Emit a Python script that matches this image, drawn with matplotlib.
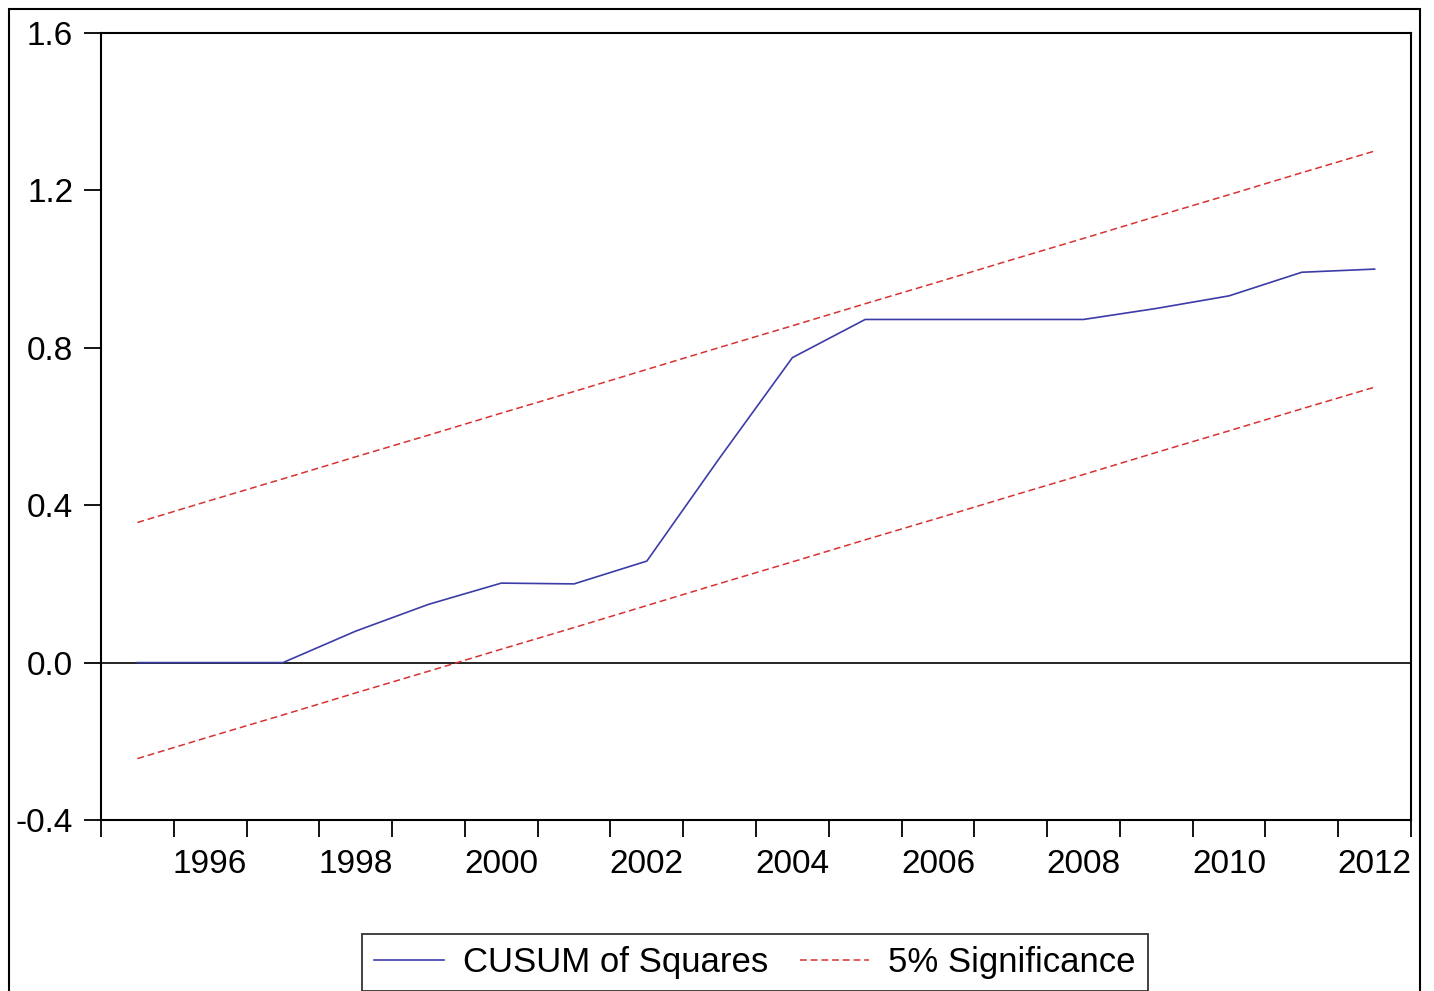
import matplotlib.pyplot as plt
from matplotlib.patches import Rectangle

plt.rcParams['font.family'] = ['Liberation Sans', 'DejaVu Sans']
plt.rcParams['axes.unicode_minus'] = False

years = list(range(1995, 2013))
cusum_sq = [0.0, 0.0, 0.0, 0.08, 0.148, 0.202, 0.2, 0.258, 0.52, 0.775,
            0.872, 0.872, 0.872, 0.872, 0.9, 0.932, 0.992, 1.0]
upper_5 = [0.356, 0.412, 0.467, 0.523, 0.578, 0.634, 0.689, 0.745, 0.801,
           0.856, 0.912, 0.967, 1.023, 1.078, 1.134, 1.189, 1.245, 1.300]
lower_5 = [-0.244, -0.188, -0.133, -0.077, -0.022, 0.034, 0.089, 0.145, 0.201,
           0.256, 0.312, 0.367, 0.423, 0.478, 0.534, 0.589, 0.645, 0.700]
year_labels = [1996, 1998, 2000, 2002, 2004, 2006, 2008, 2010, 2012]
y_ticks = [-0.4, 0.0, 0.4, 0.8, 1.2, 1.6]

W, H = 1434, 991
fig = plt.figure(figsize=(W / 100, H / 100), dpi=100)
ax = fig.add_axes([101 / W, (H - 820) / H, (1411 - 101) / W, (820 - 33) / H])

# points sit in the middle of each year interval
xs = [y + 0.5 for y in years]
ax.axhline(0, color='black', lw=1.2, zorder=1)
ax.plot(xs, cusum_sq, color='#3c3ca8', lw=1.2, label='CUSUM of Squares', zorder=3)
ax.plot(xs, upper_5, color='#d83232', lw=1.1, ls=(0, (4.5, 2.5)),
        label='5% Significance', zorder=2)
ax.plot(xs, lower_5, color='#d83232', lw=1.1, ls=(0, (4.5, 2.5)), zorder=2)

ax.set_xlim(years[0], years[-1] + 1)
ax.set_ylim(-0.4, 1.6)

ax.set_xticks(list(range(years[0], years[-1] + 2)))
ax.set_xticklabels([])
ax.set_xticks([y + 0.5 for y in year_labels], minor=True)
ax.set_xticklabels([str(y) for y in year_labels], minor=True)
ax.tick_params(axis='x', which='major', direction='out', length=12, width=1.3)
ax.tick_params(axis='x', which='minor', length=0, pad=21, labelsize=24)

ax.set_yticks(y_ticks)
ax.set_yticklabels([f'{v:.1f}' for v in y_ticks])
ax.tick_params(axis='y', direction='out', length=12, width=1.3, pad=8, labelsize=24)

for s in ax.spines.values():
    s.set_linewidth(1.5)

# outer frame around the whole graph
fig.patches.append(Rectangle((9 / W, -0.05), (1420 - 9) / W, (H - 9) / H + 0.05,
                             transform=fig.transFigure, fill=False,
                             edgecolor='black', lw=1.5))

leg = fig.legend(loc='upper center', bbox_to_anchor=(755 / W, 1 - 934 / H),
                 ncol=2, fontsize=25, frameon=True, fancybox=False,
                 edgecolor='black', handlelength=2.0, handletextpad=0.55,
                 columnspacing=0.9, borderpad=0.35, borderaxespad=0)
leg.get_frame().set_linewidth(1.3)

fig.savefig('out.png', dpi=100)
